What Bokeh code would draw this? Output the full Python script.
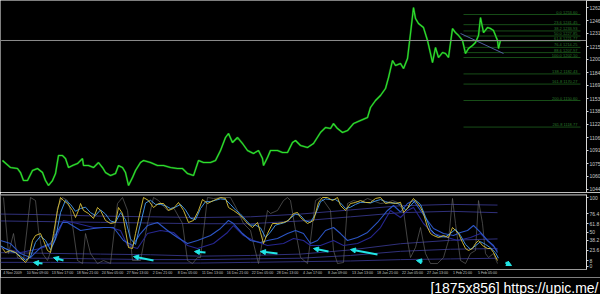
from bokeh.plotting import figure
from bokeh.layouts import column
from bokeh.models import Range1d, FixedTicker, Span, Label, Arrow, NormalHead, ColumnDataSource
from bokeh.embed import file_html
from bokeh.resources import INLINE
from bokeh.core.properties import value

# ---------------- main price panel data ----------------
bar_x = [2, 10, 17, 20, 23, 27, 32, 37, 42, 45, 48, 52, 55, 58, 62, 65, 68, 72, 77, 82, 83, 88, 93, 98,
         102, 105, 110, 115, 118, 122, 125, 128, 132, 135, 140, 143, 150, 157, 163, 170, 177, 182, 187,
         193, 198, 203, 210, 215, 220, 225, 228, 232, 237, 242, 247, 253, 258, 262, 263, 267, 270, 277,
         282, 287, 292, 295, 300, 307, 313, 320, 325, 330, 333, 337, 342, 347, 353, 360, 367, 370, 375,
         380, 385, 388, 392, 395, 400, 403, 407, 410, 413, 415, 418, 423, 427, 430, 432, 435, 438, 442,
         445, 448, 452, 455, 458, 462, 465, 468, 472, 475, 478, 480, 483, 487, 490, 493, 497, 498, 500]
close = [1078.7, 1070.3, 1069.1, 1064.3, 1054.7, 1054.7, 1066.7, 1069.1, 1064.3, 1054.7, 1048.8, 1054.7,
         1063.1, 1084.7, 1084.7, 1081.1, 1070.3, 1072.7, 1075.1, 1081.1, 1072.7, 1072.7, 1070.3, 1076.3,
         1070.3, 1064.3, 1060.7, 1063.1, 1072.7, 1070.3, 1064.3, 1048.8, 1058.3, 1066.7, 1076.3, 1078.7,
         1076.3, 1072.7, 1072.7, 1070.3, 1069.1, 1069.1, 1063.1, 1060.7, 1078.7, 1076.3, 1076.3, 1078.7,
         1090.7, 1106.3, 1111.1, 1100.3, 1106.3, 1099.1, 1090.7, 1087.1, 1090.7, 1081.1, 1072.7, 1082.3,
         1090.7, 1090.7, 1088.3, 1088.3, 1100.3, 1102.7, 1096.7, 1094.3, 1099.1, 1112.3, 1118.2, 1117.0,
         1123.0, 1117.0, 1112.3, 1114.6, 1123.0, 1126.6, 1130.2, 1142.2, 1150.6, 1156.6, 1165.0, 1178.1,
         1198.5, 1192.5, 1194.9, 1188.9, 1200.9, 1230.9, 1262.0, 1248.8, 1242.8, 1238.0, 1222.5, 1206.9,
         1196.1, 1214.1, 1202.1, 1208.1, 1206.9, 1202.1, 1236.8, 1232.0, 1228.5, 1222.5, 1206.9, 1212.9,
         1216.5, 1220.1, 1228.5, 1250.0, 1232.0, 1238.0, 1236.8, 1234.4, 1222.5, 1212.9, 1223.0]

bid_price = 1222.5
bid_text = "1223"

price_ticks = [1044, 1060, 1075, 1091, 1106, 1122, 1138, 1153, 1169, 1184, 1200, 1215, 1231, 1246, 1262]

trend_x = [460, 503]
trend_y = [1230.9, 1206.9]

fib_pct = ["0.0", "23.6", "38.2", "50.0", "61.8", "76.4", "88.6", "100.0", "138.2", "161.8", "200.0", "261.8"]
fib_price = [1253.60, 1241.45, 1233.93, 1227.85, 1221.77, 1214.25, 1207.97, 1202.10, 1182.43, 1170.27,
             1150.60, 1118.77]
fib_start = 463
fib_end = 580

# ---------------- oscillator panel data ----------------
yel_x = [2, 5, 10, 15, 20, 25, 28, 32, 35, 40, 43, 47, 50, 53, 57, 60, 63, 67, 72, 75, 78, 80, 83, 88, 93,
         97, 100, 105, 110, 115, 118, 122, 125, 128, 132, 135, 140, 143, 148, 153, 158, 163, 168, 173, 178,
         183, 188, 193, 198, 202, 207, 213, 220, 225, 228, 233, 240, 247, 252, 257, 260, 263, 267, 272, 277,
         283, 288, 293, 297, 300, 307, 313, 318, 322, 327, 332, 337, 340, 345, 350, 355, 360, 365, 370, 375,
         380, 385, 390, 395, 400, 403, 407, 410, 413, 417, 420, 423, 427, 430, 433, 438, 443, 448, 452, 455,
         458, 462, 465, 468, 472, 475, 478, 482, 487, 490, 493, 497]
yel_v = [26.1, 20.3, 23.2, 20.3, 13.0, 5.8, 11.6, 37.7, 44.9, 47.8, 37.7, 23.2, 20.3, 47.8, 81.2, 100, 95.6,
         91.3, 81.2, 71.0, 81.2, 91.3, 81.2, 76.8, 69.6, 85.5, 81.2, 66.7, 62.3, 63.8, 85.5, 76.8, 52.2, 27.5,
         26.1, 47.8, 81.2, 100, 95.6, 85.5, 91.3, 91.3, 81.2, 84.1, 92.8, 81.2, 63.8, 66.7, 81.2, 97.1, 91.3,
         95.6, 100, 98.6, 85.5, 81.2, 73.9, 62.3, 56.5, 63.8, 49.3, 33.3, 47.8, 62.3, 62.3, 63.8, 66.7, 76.8,
         78.3, 71.0, 62.3, 66.7, 92.8, 100, 100, 95.6, 100, 88.4, 81.2, 91.3, 92.8, 95.6, 92.8, 92.8, 98.6,
         100, 91.3, 92.8, 91.3, 93.0, 78.3, 84.1, 92.8, 98.6, 91.3, 85.5, 76.8, 56.5, 47.8, 44.9, 42.0, 44.9,
         42.0, 56.5, 52.2, 47.8, 34.8, 26.1, 23.2, 26.1, 33.3, 37.7, 30.4, 26.1, 26.1, 20.3, 8.7]

lb_x = [0, 5, 10, 15, 20, 25, 30, 35, 40, 45, 50, 55, 60, 65, 70, 75, 80, 85, 90, 95, 100, 105, 110, 115,
        120, 125, 130, 135, 140, 145, 150, 155, 160, 165, 170, 175, 180, 185, 190, 195, 200, 205, 210, 215,
        220, 225, 230, 235, 240, 245, 250, 255, 260, 265, 270, 275, 280, 285, 290, 295, 300, 305, 310, 315,
        320, 325, 330, 335, 340, 345, 350, 355, 360, 365, 370, 375, 380, 385, 390, 395, 400, 405, 410, 415,
        420, 425, 430, 435, 440, 445, 450, 455, 460, 465, 470, 475, 480, 485, 490, 495, 498]
lb_v = [30, 26, 22, 20, 15, 9, 14, 35, 44, 38, 24, 40, 78, 96, 90, 80, 84, 86, 78, 74, 82, 76, 66, 64,
        78, 68, 40, 32, 62, 92, 96, 90, 90, 88, 84, 86, 90, 82, 70, 68, 84, 94, 94, 96,
        98, 97, 90, 82, 76, 68, 60, 60, 56, 42, 50, 60, 62, 64, 70, 76, 74, 66, 64, 76,
        94, 98, 97, 97, 92, 84, 86, 90, 93, 93, 92, 95, 97, 94, 92, 92, 90, 82, 88, 96,
        90, 72, 54, 46, 43, 43, 48, 54, 45, 32, 25, 30, 36, 32, 27, 20, 12]

mb_x = [0, 10, 20, 30, 40, 50, 62, 67, 80, 93, 103, 113, 123, 132, 140, 147, 157, 167, 177, 187, 197, 210,
        220, 228, 233, 242, 250, 260, 267, 277, 287, 295, 303, 310, 317, 325, 333, 340, 347, 357, 367, 377,
        387, 393, 400, 407, 413, 420, 427, 433, 443, 453, 460, 467, 473, 480, 487, 493, 497]
mb_v = [37.7, 33.3, 18.8, 13.0, 27.5, 33.3, 63.8, 63.8, 52.2, 55.1, 56.5, 56.5, 37.7, 30.4, 47.8, 59.4,
        63.8, 52.2, 42.0, 33.3, 37.7, 44.9, 55.1, 66.7, 62.3, 47.8, 37.7, 34.8, 37.7, 40.6, 47.8, 52.2,
        47.8, 33.3, 37.7, 52.2, 56.5, 47.8, 37.7, 42.0, 49.3, 63.8, 81.2, 88.4, 79.0, 91.3, 95.6, 81.2,
        66.7, 55.1, 47.8, 44.9, 49.3, 52.2, 59.4, 49.3, 37.7, 30.4, 20.3]

db_x = [0, 20, 40, 53, 63, 77, 93, 110, 120, 127, 137, 147, 160, 173, 187, 197, 213, 227, 233, 243, 253,
        267, 283, 293, 303, 310, 320, 333, 343, 357, 370, 380, 390, 400, 407, 413, 423, 433, 447, 457, 470,
        480, 490, 497]
db_v = [27.5, 20.3, 26.1, 33.3, 66.7, 62.3, 56.5, 56.5, 52.2, 30.4, 26.1, 47.8, 52.2, 49.3, 30.4, 26.1,
        33.3, 49.3, 59.4, 44.9, 37.7, 30.4, 33.3, 40.6, 37.7, 30.4, 30.4, 37.7, 30.4, 33.3, 42.0, 56.5,
        81.2, 71.0, 81.2, 85.5, 62.3, 47.8, 42.0, 37.7, 42.0, 47.8, 33.3, 23.2]

gr_x = [3, 8, 13, 17, 23, 30, 35, 38, 42, 47, 53, 57, 62, 67, 70, 77, 82, 85, 90, 97, 103, 110, 117, 122,
        127, 132, 140, 147, 153, 158, 167, 173, 182, 187, 192, 197, 200, 207, 213, 223, 230, 237, 243, 250,
        253, 258, 262, 267, 270, 277, 283, 287, 290, 295, 300, 307, 310, 315, 320, 323, 330, 333, 337, 343,
        347, 353, 360, 367, 372, 380, 387, 392, 397, 403, 407, 410, 415, 420, 425, 430, 437, 443, 448, 452,
        455, 460, 465, 470, 475, 478, 482, 485, 488, 493, 497]
gr_v = [100, 18.8, 47.8, 13.0, 8.7, 100, 95.6, 52.2, 18.8, 8.7, 33.3, 85.5, 100, 95.6, 81.2, 8.7, 4.3,
        47.8, 18.8, 4.3, 8.7, 4.3, 91.3, 100, 81.2, 8.7, 8.7, 62.3, 100, 95.6, 81.2, 85.5, 62.3, 8.7, 4.3,
        13.0, 13.0, 100, 98.6, 100, 100, 81.2, 62.3, 52.2, 33.3, 4.3, 37.7, 81.2, 76.8, 81.2, 95.6, 100,
        95.6, 52.2, 13.0, 4.3, 37.7, 95.6, 100, 95.6, 81.2, 23.2, 4.3, 5.8, 91.3, 95.6, 92.8, 98.6, 95.6,
        91.3, 92.8, 95.6, 92.8, 81.2, 37.7, 13.0, 27.5, 56.5, 18.8, 4.3, 4.3, 13.0, 37.7, 98.6, 62.3, 8.7,
        4.3, 18.8, 23.2, 95.6, 62.3, 18.8, 13.0, 18.8, 4.3]

band_x = [0, 50, 100, 150, 200, 250, 300, 350, 400, 450, 497]
band_up1 = [76, 75, 73, 72, 71, 72, 76, 82, 88, 90, 89]
band_up2 = [66, 65, 64, 63, 62, 62, 66, 72, 78, 80, 78]
band_lo1 = [20, 19, 18, 17, 15, 16, 18, 24, 33, 38, 40]
band_lo2 = [12, 12, 11, 10, 10, 11, 12, 16, 22, 25, 26]
band_lo3 = [6, 6, 5, 5, 5, 6, 7, 8, 10, 11, 12]

arr_x0 = [42, 63, 153, 205, 277, 328, 377, 422, 505]
arr_y0 = [4.3, 8.7, 8.7, 20.3, 18.8, 21.7, 17.4, 7.2, 5.8]
arr_x1 = [33, 53, 133, 194, 260, 313, 350, 416, 511]
arr_y1 = [5.8, 13.0, 14.5, 21.7, 21.7, 26.1, 24.6, 8.7, 1.4]

osc_ticks = [0, 8, 23.6, 38.2, 50, 61.8, 76.4, 100]
osc_tick_text = ["0", "8", "23.6", "38.2", "50", "61.8", "76.4", "100"]

time_labels = ["4 Nov 2009", "10 Nov 09:00", "13 Nov 17:00", "18 Nov 21:00", "24 Nov 05:00",
               "27 Nov 13:00", "2 Dec 21:00", "8 Dec 05:00", "11 Dec 13:00", "16 Dec 21:00",
               "22 Dec 05:00", "28 Dec 13:00", "4 Jan 17:00", "8 Jan 09:00", "13 Jan 13:00",
               "18 Jan 21:00", "22 Jan 05:00", "27 Jan 13:00", "1 Feb 21:00", "5 Feb 05:00"]

watermark = ["[1875x856] https://upic.me/"]

FONT = value("Liberation Sans")
BG = "#000000"


def style_right_axis(ax):
    ax.major_label_text_font_size = "5px"
    ax.major_label_text_font = "Liberation Sans"
    ax.major_label_text_color = "#c8c8c8"
    ax.axis_line_color = "#d8d8d8"
    ax.major_tick_line_color = "#d8d8d8"
    ax.major_tick_out = 2
    ax.major_tick_in = 0
    ax.minor_tick_out = 0
    ax.minor_tick_in = 0
    ax.major_label_standoff = 1


# ---------------- main panel ----------------
p1 = figure(frame_width=586, frame_height=192, x_range=Range1d(0, 586), y_range=Range1d(1040.4, 1270.4),
            output_backend="svg", toolbar_location=None, y_axis_location="right", x_axis_location=None,
            background_fill_color=BG, border_fill_color=BG, outline_line_color=None,
            min_border_left=0, min_border_top=0, min_border_bottom=0, min_border_right=14)
p1.grid.visible = False
ya = p1.yaxis[0]
ya.ticker = FixedTicker(ticks=price_ticks)
style_right_axis(ya)

p1.add_layout(Span(location=bid_price, dimension="width", line_color="#8c8c8c", line_width=1))

p1.segment(x0=[fib_start] * len(fib_price), y0=fib_price, x1=[fib_end] * len(fib_price), y1=fib_price,
           line_color="#174d17", line_width=1)
fib_text = [f"{a}  {b:.2f}" for a, b in zip(fib_pct, fib_price)]
p1.text(x=[fib_end - 2] * len(fib_price), y=fib_price, text=fib_text, text_align="right",
        text_baseline="bottom", text_font_size="4px", text_font=FONT, text_color="#2a7a2a")

p1.line(trend_x, trend_y, line_color="#5060a0", line_width=1)
p1.line(bar_x, close, line_color="#146414", line_width=2.0)
p1.line(bar_x, close, line_color="#2ee02e", line_width=1.1)

p1.add_layout(Label(x=587, y=bid_price, text=bid_text, text_font_size="5px", text_font="Liberation Sans",
                    text_color="#000000", text_baseline="middle", background_fill_color="#d0d0d0"))

# ---------------- oscillator panel ----------------
p2 = figure(frame_width=586, frame_height=75, x_range=p1.x_range, y_range=Range1d(-4.35, 104.35),
            output_backend="svg", toolbar_location=None, y_axis_location="right",
            background_fill_color=BG, border_fill_color=BG, outline_line_color=None,
            min_border_left=0, min_border_top=2, min_border_bottom=5, min_border_right=14)
p2.grid.visible = False
oy = p2.yaxis[0]
oy.ticker = FixedTicker(ticks=osc_ticks)
oy.major_label_overrides = {t: s for t, s in zip(osc_ticks, osc_tick_text)}
style_right_axis(oy)

time_ticks = [12 + 25 * i for i in range(len(time_labels))]
ox = p2.xaxis[0]
ox.ticker = FixedTicker(ticks=time_ticks)
ox.major_label_overrides = {t: s for t, s in zip(time_ticks, time_labels)}
ox.major_label_text_font_size = "3.6px"
ox.major_label_text_font = "Liberation Sans"
ox.major_label_text_color = "#c0c0c0"
ox.axis_line_color = "#9a9a9a"
ox.major_tick_line_color = "#9a9a9a"
ox.major_tick_out = 1
ox.major_tick_in = 0
ox.minor_tick_out = 0
ox.minor_tick_in = 0
ox.major_label_standoff = 0

p2.add_layout(Span(location=104.35, dimension="width", line_color="#b4b4b4", line_width=2))

for bv in (band_up1, band_up2, band_lo1, band_lo2, band_lo3):
    p2.line(band_x, bv, line_color="#30307a", line_width=1)
p2.line(gr_x, gr_v, line_color="#6a6a6a", line_width=0.7, line_alpha=0.9)
p2.line(db_x, db_v, line_color="#26268f", line_width=1.1)
p2.line(mb_x, mb_v, line_color="#2c55c4", line_width=1.1)
p2.line(lb_x, lb_v, line_color="#3f8ee0", line_width=1.0)
p2.line(yel_x, yel_v, line_color="#dcc43a", line_width=0.9)

arrow_src = ColumnDataSource(dict(x_start=arr_x0, y_start=arr_y0, x_end=arr_x1, y_end=arr_y1))
p2.add_layout(Arrow(end=NormalHead(size=5, fill_color="#22e6e6", line_color="#22e6e6"),
                    x_start="x_start", y_start="y_start", x_end="x_end", y_end="y_end",
                    source=arrow_src, line_color="#22e6e6", line_width=2))

# ---------------- bottom strip with the image-host watermark ----------------
p3 = figure(frame_width=600, frame_height=20, x_range=Range1d(0, 600), y_range=Range1d(0, 20),
            output_backend="svg", toolbar_location=None, x_axis_location=None, y_axis_location=None,
            background_fill_color=BG, border_fill_color=BG, outline_line_color=None,
            min_border_left=0, min_border_top=0, min_border_bottom=0, min_border_right=0)
p3.grid.visible = False
p3.text(x=[598], y=[10], text=watermark, text_align="right", text_baseline="middle",
        text_font_size="14px", text_font=FONT, text_color="#ffffff")

layout = column(p1, p2, p3, spacing=0)
open("out.html", "w").write(file_html(layout, INLINE))
